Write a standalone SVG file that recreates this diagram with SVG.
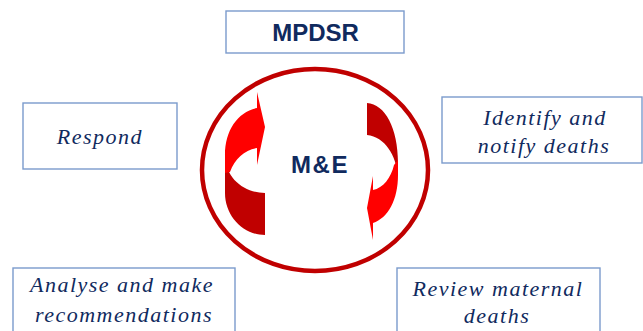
<svg xmlns="http://www.w3.org/2000/svg" width="643" height="331" viewBox="0 0 643 331">
<style>
.box{fill:#ffffff;stroke:#7b9bcc;stroke-width:1.4}
.it{font-family:"Liberation Serif",serif;font-style:italic;font-size:22px;fill:#102a5e;letter-spacing:1.5px;text-anchor:middle}
.bd{font-family:"Liberation Sans",Arial,sans-serif;font-weight:bold;font-size:24px;fill:#102a5e;text-anchor:middle}
.bright{fill:#ff0000}
.dark{fill:#c00000}
</style>
<rect width="643" height="331" fill="#ffffff"/>
<g id="mpdsr">
<rect class="box" x="226" y="11" width="178" height="42"/>
<text class="bd" x="315.5" y="41">MPDSR</text>
</g>
<g id="me">
<ellipse cx="315" cy="170" rx="113" ry="101" fill="none" stroke="#c00000" stroke-width="4.5"/>
<text class="bd" x="320" y="173" style="letter-spacing:1.5px">M&amp;E</text>
</g>
<g id="connectors">
<path class="dark" d="M265,193 L265,235 C243,235 225,216 225,193 L225,157 C226,178 244,193 265,193 Z"/>
<path class="bright" d="M225,173 L225,155 C225,130 238,112 257,108 L257,92 L265,127 L257,165 L257,148 C245,150 235,158 230,172 Z"/>
<path class="dark" d="M367,103 C385,104 398,128 398,163 L398,176 C396,155 385,137 367,135 Z"/>
<path class="bright" d="M398,160 L398,175 C398,200 388,218 373,223 L373,240 L367,208 L373,176 L373,190 C383,188 391,178 394,165 Z"/>
</g>
<g id="respond">
<rect class="box" x="23" y="103" width="154" height="66"/>
<text class="it" x="100" y="144">Respond</text>
</g>
<g id="identify">
<rect class="box" x="442" y="97" width="200" height="66"/>
<text class="it" x="545" y="125">Identify and</text>
<text class="it" x="544" y="153">notify deaths</text>
</g>
<g id="analyse">
<rect class="box" x="13" y="268" width="222" height="70"/>
<text class="it" x="122" y="292">Analyse and make</text>
<text class="it" x="124" y="322">recommendations</text>
</g>
<g id="review">
<rect class="box" x="397" y="268" width="203" height="70"/>
<text class="it" x="498" y="296">Review maternal</text>
<text class="it" x="497" y="323">deaths</text>
</g>
</svg>
